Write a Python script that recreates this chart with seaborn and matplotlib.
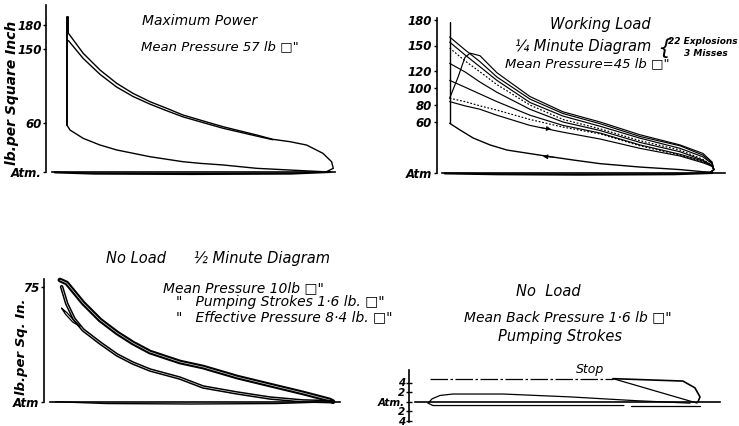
import matplotlib
matplotlib.use("Agg")
import matplotlib.pyplot as plt
import seaborn as sns

# ---- Maximum Power (x = % of stroke, y = lb per sq. inch above atmosphere)
mp_spike_x = [5.2, 5.2, 5.8, 5.8]
mp_spike = [58, 190, 190, 170]
mp_outer_x = [5.8, 11.1, 17.1, 23, 28.8, 34.9, 40.8, 46.6, 52.7, 60.9, 72.8, 78.6, 84.7, 90.6, 96.4, 99.5, 100.1, 97.7]
mp_outer = [170, 145.3, 124.8, 108.6, 96.3, 86, 78, 69.8, 63.6, 55.4, 45.3, 40, 37.1, 33, 22.9, 12.6, 4.5, 0.4]
mp_inner_x = [5.8, 11.1, 17.1, 23, 28.8, 34.9, 40.8, 46.6, 52.7, 60.9, 72.8, 78.6]
mp_inner = [161, 139, 119.5, 104, 92.5, 83, 75, 67.5, 61.5, 53.5, 44, 39.5]
mp_comp_x = [5.2, 6.4, 11.1, 17.1, 23, 34.9, 46.6, 52.7, 60.9, 72.8, 84.7, 96.4]
mp_comp = [58, 51.4, 41.2, 33, 27, 18.7, 12.6, 10.6, 8.6, 4.5, 2.4, 0.4]
mp_exh_x = [1, 15, 50, 85, 99]
mp_exh = [-0.5, -2, -2.5, -2, 0]
mp_ticks = [180, 150, 60, 0]
mp_labels = ["180", "150", "60", "Atm."]

# ---- Working Load, 1/4 minute diagram
wl_x = [2.8, 8.4, 13.9, 20.1, 32.2, 44.3, 57.9, 72.5, 87.2, 95.6, 98.9, 99.6, 98.5]
wl_c1 = [160, 145, 131, 113, 87, 70, 58, 43, 32, 21, 12, 4, 1]
wl_c2 = [154, 139, 125, 109, 83, 67, 55, 41, 29, 19, 11, 4, 1]
wl_c3 = [147, 132, 119, 104, 80, 63, 52, 38, 27, 16, 9, 4, 1]
wl_c4 = [129, 119, 107, 95, 75, 60, 50, 36, 25, 15, 9, 4, 1]
wl_c5 = [109, 101, 93, 84, 68, 56, 47, 33, 22, 14, 8, 4, 1]
wl_c6 = [88, 84, 79, 74, 63, 54, 46, 32, 21, 13, 8, 4, 1]
wl_c7 = [84, 79, 75, 68, 56, 48, 40, 29, 20, 12, 8, 4, 1]
wl_late_x = [2.8, 5.9, 8.4, 10.3, 13.9, 20.1, 32.2, 44.3, 57.9, 72.5, 87.2, 95.6, 98.9, 99.6, 98.5]
wl_late = [88, 113, 136, 141, 138, 118, 90, 72, 60, 45, 33, 23, 13, 4, 1]
wl_comp_x = [2.8, 6.6, 11.4, 17.6, 23.8, 35.9, 48, 57.9, 72.5, 87.2, 95.6, 98.9]
wl_comp = [58.5, 50.6, 41.2, 33, 27, 21, 15.3, 11, 7, 4, 1.5, 1]
wl_vert_x = [2.8, 2.8]
wl_vert = [58.5, 178]
wl_exh_x = [1, 20, 50, 85, 99]
wl_exh = [-0.5, -1.5, -2, -1.5, 0]
wl_ticks = [180, 150, 120, 100, 80, 60, 0]
wl_labels = ["180", "150", "120", "100", "80", "60", "Atm"]

# ---- No Load, 1/2 minute diagram
nl_upper_x = [3.5, 5.9, 11.7, 17.7, 23.7, 29.3, 35.3, 45.9, 54.1, 66.1, 77.7, 89.4, 98.9, 100]
nl_upper = [79.4, 77.4, 64.4, 53.3, 44.9, 38.3, 32.4, 25.9, 22.6, 16.1, 10.9, 5.7, 1.1, 0]
nl_lower_x = [4.1, 5.9, 8.5, 11.7, 17.7, 23.7, 29.3, 35.3, 45.9, 54.1, 66.1, 77.7, 89.4, 100]
nl_lower = [75, 64, 54, 46.8, 38.3, 30.5, 25.2, 20.7, 15.4, 9.6, 5.7, 2.4, 0.5, 0]
nl_leaf_x = [4.1, 6, 8.5, 10.6, 8, 5.5, 4.1]
nl_leaf = [61, 58, 53, 49, 52, 57, 61]
nl_exh_x = [2, 20, 50, 80, 100]
nl_exh = [0, -1.2, -1.5, -1.2, 0]
nl_ticks = [75, 0]
nl_labels = ["75", "Atm"]

# ---- No Load, pumping strokes
ps_stop_x = [5.3, 69.5]
ps_stop = [4.8, 4.8]
ps_end_x = [69.5, 94, 98.2, 100, 99.3]
ps_end = [4.8, 4.3, 2.9, 1.0, 0]
ps_diag_x = [69.5, 99]
ps_diag = [4.8, -0.3]
ps_up_x = [4.6, 6, 8.8, 13.3, 30.9, 54.4, 77.9, 96.5]
ps_up = [-0.3, 0.6, 1.3, 1.6, 1.6, 1.0, 0.2, -0.3]
ps_low_x = [4.6, 6.3, 73.3]
ps_low = [-0.3, -0.8, -0.8]
ps_low2_x = [75.8, 100]
ps_low2 = [-0.8, -0.8]
ps_ticks = [4, 2, 0, -2, -4]
ps_labels = ["4", "2", "Atm.", "2", "4"]

sns.set_theme(style="white")
plt.rcParams["font.family"] = ["DejaVu Sans"]

W, H = 739, 426
fig = plt.figure(figsize=(W / 100, H / 100), dpi=100)


def panel(ox, oy, sx, sy, xlim, ylim, ytop, yfoot, xend, ticks, labels, fs=8.5):
    # ox, oy: pixel position of the origin, sx, sy: pixels per unit
    left = ox + xlim[0] * sx
    right = ox + xlim[1] * sx
    top = oy - ylim[1] * sy
    bottom = oy - ylim[0] * sy
    ax = fig.add_axes([left / W, 1 - bottom / H, (right - left) / W, (bottom - top) / H])
    ax.set_xlim(xlim)
    ax.set_ylim(ylim)
    ax.patch.set_visible(False)
    for s in ["top", "right"]:
        ax.spines[s].set_visible(False)
    ax.spines["left"].set_bounds(yfoot, ytop)
    ax.spines["bottom"].set_position(("data", 0))
    ax.spines["bottom"].set_bounds(0, xend)
    for s in ["left", "bottom"]:
        ax.spines[s].set_color("black")
        ax.spines[s].set_linewidth(1.2)
    ax.set_xticks([])
    ax.set_yticks(ticks, labels, fontstyle="italic", fontweight="bold", fontsize=fs)
    ax.tick_params(axis="y", direction="out", length=2.5, width=1, pad=1, colors="black", left=True)
    ax.set_ylabel("")
    return ax


def trace(ax, xs, ys, lw=1.0, color="black", **kw):
    sns.lineplot(x=xs, y=ys, sort=False, estimator=None, ax=ax, color=color,
                 linewidth=lw, legend=False, clip_on=False, **kw)


def label(x, y, s, size=10, ha="center", **kw):
    fig.text(x / W, 1 - y / H, s, ha=ha, va="center", fontsize=size,
             fontstyle="italic", color="black", **kw)


# panel 1
ax1 = panel(52, 172, 2.81, 0.817, (-2, 106), (-6, 206), 204, 0, 100.7, mp_ticks, mp_labels)
trace(ax1, mp_spike_x, mp_spike, lw=1.4)
trace(ax1, mp_outer_x, mp_outer)
trace(ax1, mp_inner_x, mp_inner)
trace(ax1, mp_comp_x, mp_comp)
trace(ax1, mp_exh_x, mp_exh, lw=1.5)
label(200, 21, "Maximum Power")
label(220, 47, "Mean Pressure 57 lb \u25a1\"", size=9.5)
label(12, 93, "lb.per Square Inch", size=10, rotation=90, fontweight="bold")

# panel 2
ax2 = panel(442, 173, 2.73, 0.85, (-2, 106), (-5, 185), 182, 0, 103.7, wl_ticks, wl_labels)
for c, ls in [(wl_c1, "-"), (wl_c2, "-"), (wl_c3, (0, (1.5, 1.5))), (wl_c4, "-"),
              (wl_c5, "-"), (wl_c6, (0, (1.5, 1.5))), (wl_c7, "-")]:
    trace(ax2, wl_x, c, lw=0.85, linestyle=ls)
trace(ax2, wl_late_x, wl_late, lw=0.85)
trace(ax2, wl_comp_x, wl_comp)
trace(ax2, wl_vert_x, wl_vert)
trace(ax2, wl_exh_x, wl_exh, lw=1.5)
ax2.annotate("", xy=(41, 51), xytext=(35, 54),
             arrowprops=dict(arrowstyle="-|>", color="black", lw=0.6, mutation_scale=7))
ax2.annotate("", xy=(36, 19.8), xytext=(42, 18.2),
             arrowprops=dict(arrowstyle="-|>", color="black", lw=0.6, mutation_scale=7))
label(600, 25, "Working Load", size=10.5)
label(583, 46, "\u00bc Minute Diagram", size=10.5)
label(587, 64, "Mean Pressure=45 lb \u25a1\"", size=9.5)
label(664, 48, "{", size=16, fontweight="light")
label(703, 42, "22 Explosions", size=6.5, fontweight="bold")
label(706, 53, "3 Misses", size=6.5, fontweight="bold")

# panel 3
ax3 = panel(50, 401.7, 2.83, 1.533, (-2, 106), (-4, 82), 80, 0, 102.5, nl_ticks, nl_labels)
trace(ax3, nl_upper_x, nl_upper, lw=3.4)
trace(ax3, nl_upper_x, nl_upper, lw=0.4, color="white")
trace(ax3, nl_lower_x, nl_lower, lw=2.6)
trace(ax3, nl_lower_x, nl_lower, lw=0.4, color="white")
trace(ax3, nl_leaf_x, nl_leaf, lw=0.9)
trace(ax3, nl_exh_x, nl_exh, lw=1.0)
label(218, 258, "No Load      \u00bd Minute Diagram", size=10.5)
label(163, 288, "Mean Pressure 10lb \u25a1\"", size=10, ha="left")
label(176, 302, "\"   Pumping Strokes 1\u00b76 lb. \u25a1\"", size=10, ha="left")
label(176, 317, "\"   Effective Pressure 8\u00b74 lb. \u25a1\"", size=10, ha="left")
label(22, 347, "lb.per Sq. In.", size=9.5, rotation=90, fontweight="bold")

# panel 4
ax4 = panel(415, 401.7, 2.85, 4.8, (-2, 110), (-5, 7), 6.6, -4.3, 107, ps_ticks, ps_labels, fs=7.5)
ax4.tick_params(axis="y", direction="inout", length=4)
trace(ax4, ps_stop_x, ps_stop, lw=0.9, linestyle=(0, (14, 2, 2, 2)))
trace(ax4, ps_end_x, ps_end, lw=1.2)
trace(ax4, ps_diag_x, ps_diag, lw=0.9)
trace(ax4, ps_up_x, ps_up, lw=0.9)
trace(ax4, ps_low_x, ps_low, lw=0.9)
trace(ax4, ps_low2_x, ps_low2, lw=0.9)
label(548, 292, "No  Load", size=10.5)
label(568, 317, "Mean Back Pressure 1\u00b76 lb \u25a1\"", size=10)
label(560, 336, "Pumping Strokes", size=10.5)
label(590, 370, "Stop", size=9)

fig.savefig("out.png", dpi=100, facecolor="white")
